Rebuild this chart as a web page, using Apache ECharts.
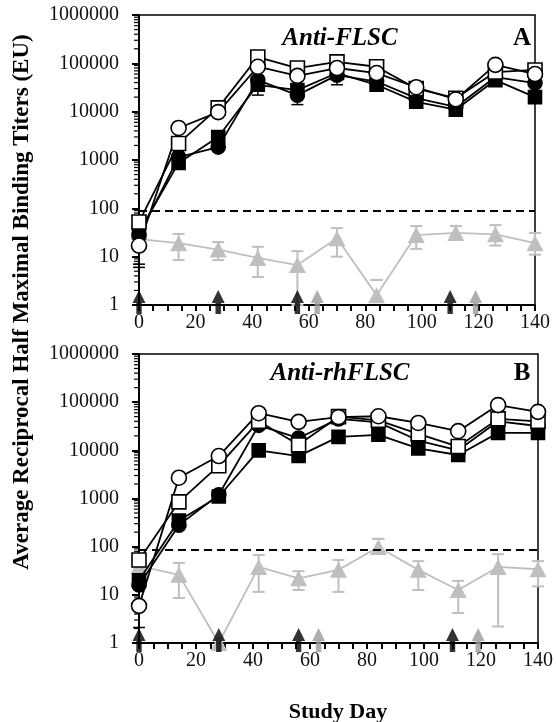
<!DOCTYPE html>
<html><head><meta charset="utf-8">
<script src="https://cdn.jsdelivr.net/npm/echarts@6/dist/echarts.min.js"></script>
<style>html,body{margin:0;padding:0;background:#fff}#c{width:556px;height:722px}</style>
</head><body><div id="c"></div>
<script>
const days = [0,14,28,42,56,70,84,98,112,126,140];
const xTickStep = 5;
const xLabelStep = 20;
const yTickLabels = [1,10,100,1000,10000,100000,1000000];
const yMinorMultipliers = [2,3,4,5,6,7,8,9];
const cutoff = 88;
const blackArrowDays = [0,28,56,110];
const grayArrowDays = [63,119];

// Panel A: Anti-FLSC
const aOpenSquare   = [52,2200,12000,135000,80000,107000,85000,30000,19000,66000,73000];
const aOpenCircle   = [17,4600,9800,85000,55000,80000,63000,32000,18000,93000,60000];
const aFilledSquare = [32,870,3000,36000,28000,63000,36000,16000,11000,45000,20000];
const aFilledCircle = [28,1150,1850,45000,22000,57000,42000,19000,12500,52000,39000];
const aGray     = [23,19,14,9.4,6.7,24,1.6,28,31,29,19];
const aGrayLow  = [null,8.5,8.5,3.8,1,10,null,14.5,25,17,11];
const aGrayHigh = [null,29.5,20,16,13,39,3.3,43,43,45,31];
const aBlackErr = [[0,6,28],[0,7,32],[42,22000,36000],[56,14000,22000],[70,36000,57000]];

// Panel B: Anti-rhFLSC
const bOpenSquare   = [53,850,4800,40000,13000,50000,42000,22000,12000,45000,40000];
const bOpenCircle   = [5.9,2700,7600,59000,39000,49000,51000,37000,25000,87000,63000];
const bFilledSquare = [20,350,1100,10000,7600,19000,21000,11000,8000,23000,23000];
const bFilledCircle = [16,280,1200,33000,18000,45000,38000,16000,10000,40000,32000];
const bGray     = [40,26,1,38,22,33,98,33,12.6,38,34];
const bGrayLow  = [null,8.6,null,11.5,12.6,11.5,null,12.6,4.2,2.2,15];
const bGrayHigh = [null,46,null,67,31,53,145,50,19.5,70,50];
const bBlackErr = [[0,2.1,5.9]];

const FONT = 'Liberation Serif';
const chart = echarts.init(document.getElementById('c'));

function pairs(arr){ return days.map((d,i)=>[d,arr[i]]); }
function errData(lo,hi){ const r=[]; days.forEach((d,i)=>{ if(lo[i]!=null||hi[i]!=null) r.push([d, lo[i]!=null?lo[i]:hi[i], hi[i]!=null?hi[i]:lo[i]]); }); return r; }

const minorTickValues = [];
yTickLabels.slice(0,-1).forEach(b=>yMinorMultipliers.forEach(m=>minorTickValues.push([0, b*m])));

function minorTickSeries(idx){
  return {type:'custom', xAxisIndex:idx, yAxisIndex:idx, data:minorTickValues, clip:false, silent:true, z:1,
    renderItem:function(params, api){
      const p=api.coord([api.value(0), api.value(1)]);
      return {type:'line', shape:{x1:p[0]-5,y1:p[1],x2:p[0],y2:p[1]}, style:{stroke:'#000',lineWidth:1.2}};
    }};
}
function errSeries(idx, data, color, width){
  return {
    type:'custom', xAxisIndex:idx, yAxisIndex:idx, data:data, z:2, clip:false,
    renderItem:function(params, api){
      const x=api.value(0), lo=api.value(1), hi=api.value(2);
      const p1=api.coord([x,lo]), p2=api.coord([x,hi]);
      const w=6;
      return {type:'group', children:[
        {type:'line', shape:{x1:p1[0],y1:p1[1],x2:p2[0],y2:p2[1]}, style:{stroke:color,lineWidth:width}},
        {type:'line', shape:{x1:p1[0]-w,y1:p1[1],x2:p1[0]+w,y2:p1[1]}, style:{stroke:color,lineWidth:width}},
        {type:'line', shape:{x1:p2[0]-w,y1:p2[1],x2:p2[0]+w,y2:p2[1]}, style:{stroke:color,lineWidth:width}}
      ]};
    }
  };
}
function lineSeries(idx, arr, symbol, filled, size){
  return {type:'line', xAxisIndex:idx, yAxisIndex:idx, data:pairs(arr), symbol:symbol, symbolSize:size,
    showAllSymbol:true, clip:false, z:4,
    lineStyle:{color:'#000', width:1.8},
    itemStyle:{color: filled?'#000':'#fff', borderColor:'#000', borderWidth:1.6}};
}
const ARROW = 'path://M6,0 L12,12 L8.5,12 L8.5,22 L3.5,22 L3.5,12 L0,12 Z';
function arrowSeries(idx, arr, color){
  return {type:'scatter', xAxisIndex:idx, yAxisIndex:idx, data:arr.map(d=>[d,1]), symbol:ARROW,
    symbolSize:[13,24], symbolOffset:[0,-3], clip:false, z:10, itemStyle:{color:color}, silent:true};
}
function panelSeries(idx, os, oc, fs, fc, g, gl, gh, be){
  return [
    minorTickSeries(idx),
    errSeries(idx, errData(gl,gh), '#bfbfbf', 2),
    {type:'line', xAxisIndex:idx, yAxisIndex:idx, data:pairs(g), symbol:'triangle', symbolSize:[17,16],
      showAllSymbol:true, clip:false, z:3, lineStyle:{color:'#bfbfbf',width:1.8}, itemStyle:{color:'#bfbfbf'},
      markLine:{silent:true, symbol:'none', label:{show:false}, lineStyle:{color:'#000',type:[8,5],width:2},
        data:[{yAxis:cutoff}]}},
    errSeries(idx, be, '#000', 1.5),
    lineSeries(idx, fs, 'rect', true, 13),
    lineSeries(idx, fc, 'circle', true, 14),
    lineSeries(idx, os, 'rect', false, 14),
    lineSeries(idx, oc, 'circle', false, 15),
    arrowSeries(idx, blackArrowDays, '#000'),
    arrowSeries(idx, grayArrowDays, '#9a9a9a')
  ];
}
function xAxis(idx){
  return {type:'value', gridIndex:idx, min:0, max:140, interval:xTickStep,
    axisLine:{lineStyle:{color:'#000',width:2}},
    axisTick:{show:true, length:6, lineStyle:{color:'#000',width:2}},
    splitLine:{show:false},
    axisLabel:{fontFamily:FONT, fontSize:20, color:'#111', margin:8,
      formatter:v=> (v % xLabelStep === 0) ? String(v) : ''}};
}
function yAxis(idx){
  return {type:'log', logBase:10, gridIndex:idx, min:yTickLabels[0], max:yTickLabels[yTickLabels.length-1],
    axisLine:{show:true, lineStyle:{color:'#000',width:2}},
    axisTick:{show:true, length:7, lineStyle:{color:'#000',width:2}},
    splitLine:{show:false},
    axisLabel:{fontFamily:FONT, fontSize:20, color:'#111', margin:20, formatter:v=>String(Math.round(v))}};
}

chart.setOption({
  animation:false,
  grid:[
    {left:139, right:21, top:15, height:290, show:true, borderColor:'#000', borderWidth:1.5},
    {left:139, right:17, top:354, height:289, show:true, borderColor:'#000', borderWidth:1.5}
  ],
  xAxis:[xAxis(0), xAxis(1)],
  yAxis:[yAxis(0), yAxis(1)],
  series:[].concat(
    panelSeries(0, aOpenSquare, aOpenCircle, aFilledSquare, aFilledCircle, aGray, aGrayLow, aGrayHigh, aBlackErr),
    panelSeries(1, bOpenSquare, bOpenCircle, bFilledSquare, bFilledCircle, bGray, bGrayLow, bGrayHigh, bBlackErr)
  ),
  graphic:[
    {type:'text', x:340, y:39, style:{text:'Anti-FLSC', font:'italic bold 25px "Liberation Serif"', fill:'#000', textAlign:'center', textVerticalAlign:'middle'}},
    {type:'text', x:522, y:39, style:{text:'A', font:'bold 25px "Liberation Serif"', fill:'#000', textAlign:'center', textVerticalAlign:'middle'}},
    {type:'text', x:340, y:374, style:{text:'Anti-rhFLSC', font:'italic bold 25px "Liberation Serif"', fill:'#000', textAlign:'center', textVerticalAlign:'middle'}},
    {type:'text', x:522, y:374, style:{text:'B', font:'bold 25px "Liberation Serif"', fill:'#000', textAlign:'center', textVerticalAlign:'middle'}},
    {type:'text', x:338, y:712, style:{text:'Study Day', font:'bold 22px "Liberation Serif"', fill:'#000', textAlign:'center', textVerticalAlign:'middle'}},
    {type:'text', x:22, y:302, rotation:Math.PI/2, style:{text:'Average Reciprocal Half Maximal Binding Titers (EU)', font:'bold 23px "Liberation Serif"', fill:'#000', textAlign:'center', textVerticalAlign:'middle'}}
  ]
});
</script></body></html>
